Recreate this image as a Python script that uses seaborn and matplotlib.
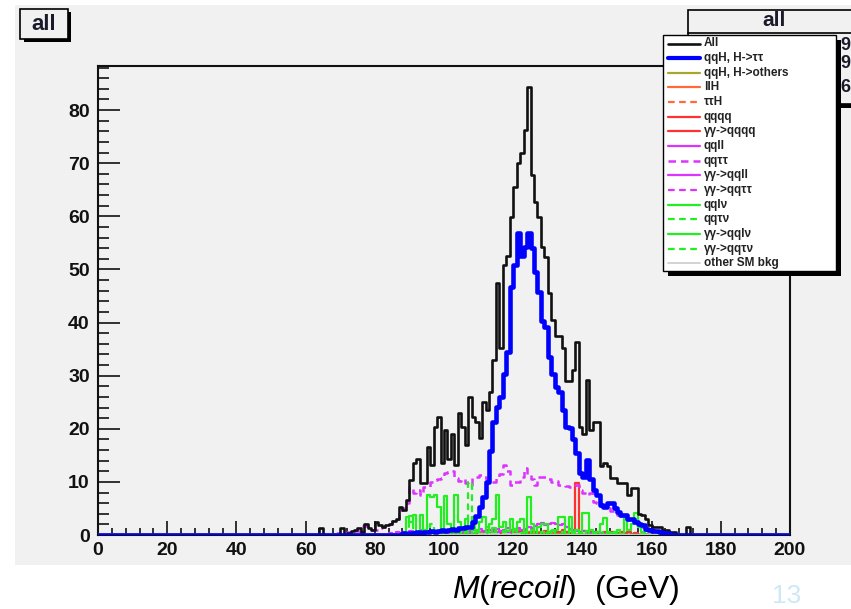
import numpy as np
import matplotlib
matplotlib.use("Agg")
import matplotlib.pyplot as plt
from matplotlib.patches import Rectangle
from matplotlib.lines import Line2D
from matplotlib.ticker import MultipleLocator
import seaborn as sns

# ---------------------------------------------------------------------------
# data: entries per 1 GeV bin of M(recoil)
# each list starts at the bin given by its *_start value
# ---------------------------------------------------------------------------
n_bins = 200
x_range = (0, 200)

all_start = 60
all_counts = [
    0, 0, 0, 0, 1.4, 0, 0, 0, 0, 0,
    1.4, 0, 0.4, 0.8, 1.0, 1.4, 0.6, 2.0, 1.4, 1.0,
    2.4, 1.9, 1.5, 1.8, 2.0, 2.7, 3.0, 5.3, 4.8, 6.5,
    10.4, 13.5, 14.4, 9.7, 9.7, 16.6, 13.2, 20.4, 22.2, 13.6,
    19.7, 14.4, 19.1, 13.2, 22.9, 20.4, 16.9, 26.0, 22.2, 21.3,
    18.3, 25.0, 23.5, 27.0, 33.0, 47.4, 35.2, 50.8, 52.6, 59.9,
    65.5, 70.0, 71.9, 76.3, 84.3, 67.7, 62.7, 59.8, 54.2, 52.3,
    45.5, 40.5, 37.4, 37.4, 35.2, 28.9, 28.9, 31.1, 36.4, 20.4,
    19.0, 29.2, 19.8, 21.3, 21.3, 12.9, 13.5, 12.9, 10.7, 10.7,
    9.8, 9.7, 9.7, 7.5, 8.8, 8.8, 4.0, 3.7, 3.0, 1.9,
    1.6, 1.6, 1.6, 1.0, 1.0, 0.6, 0.5, 0, 0, 0, 1.6,
]

qqh_tautau_start = 88
qqh_tautau = [
    0.3, 0.2, 0.4, 0.3, 0.5, 0.4, 0.6, 0.5, 0.8, 0.6,
    0.7, 0.9, 0.8, 1.0, 1.2, 1.0, 1.4, 1.3, 1.5, 1.6,
    2.4, 3.5, 5.3, 7.2, 10.0, 15.9, 21.3, 24.1, 26.0, 30.4,
    34.5, 46.7, 50.9, 56.9, 52.5, 54.3, 56.9, 54.0, 49.6, 45.8,
    40.2, 39.2, 33.6, 30.4, 27.9, 27.0, 23.6, 20.4, 20.1, 18.0,
    15.4, 11.6, 11.0, 14.1, 10.5, 8.5, 7.5, 5.6, 5.3, 6.0,
    6.0, 5.0, 4.4, 3.8, 3.8, 3.0, 3.0, 2.4, 2.0, 1.8,
    1.2, 1.0, 0.7, 0.7, 0.6, 0.4, 0.3, 0.2,
]

qqh_others_start = 110
qqh_others = [
    0.2, 0.3, 0.2, 0.4, 0.5, 0.3, 0.6, 0.5, 0.7, 0.6,
    0.8, 0.9, 0.7, 0.8, 0.6, 0.7, 0.5, 0.6, 0.4, 0.5,
    0.3, 0.4, 0.3, 0.2, 0.3, 0.2,
]

llh_start = 100
llh = [
    0.2, 0, 0.3, 0.2, 0.4, 0, 0.3, 0.5, 0.2, 0.4,
    0.6, 0.3, 0.5, 0.4, 0.7, 0.5, 0.6, 0.4, 0.8, 0.5,
    0.6, 0.4, 0.5, 0.7, 0.3, 0.5, 0.4, 0.3, 0.5, 0.2,
    0.4, 0.3, 0.2, 0.3, 0.1, 0.2, 0.1,
]

tautauh_start = 105
tautauh = [
    0.1, 0.2, 0.1, 0.2, 0.3, 0.2, 0.2, 0.3, 0.2, 0.3,
    0.4, 0.3, 0.2, 0.3, 0.2, 0.3, 0.2, 0.1, 0.2, 0.1,
]

qqqq_start = 96
qqqq = [
    0.3, 0, 0.5, 0.2, 0.6, 0.4, 0, 0.7, 0.3, 0.5,
    0.8, 0.4, 0.2, 0.6, 0, 0.5, 0.9, 0.3, 0.6, 0.4,
    0.7, 0.5, 0.3, 0.8, 0.4, 0.6, 0.5, 0.9, 0.4, 0.7,
    0.6, 0.3, 0.5, 0.8, 0.4, 0.7, 0.5, 0.6, 0.9, 0.5,
    0.4, 0.6, 9.7, 0.5, 0.7, 0.4, 0.6, 0.3, 0.5, 0.4,
    0.6, 0.3, 0.5, 0.2, 0.4, 0.6, 0.3, 0.5, 0.2, 0.3,
]

aa_qqqq_start = 100
aa_qqqq = [
    0.1, 0, 0.2, 0, 0.1, 0.3, 0, 0.2, 0.1, 0,
    0.2, 0.3, 0.1, 0, 0.2, 0.1, 0.3, 0, 0.2, 0.1,
    0, 0.2, 0.1, 0.2, 0, 0.1, 0.2, 0, 0.1, 0.1,
]

qqll_start = 84
qqll = [
    0.3, 0.2, 0.5, 0.3, 0.6, 0.4, 0.8, 0.5, 0.6, 0.9,
    0.5, 0.7, 0.4, 0.8, 0.6, 0.5, 0.9, 0.7, 0.6, 1.0,
    0.8, 0.6, 1.0, 0.7, 0.9, 0.6, 1.1, 0.8, 0.7, 1.0,
    0.9, 1.2, 0.8, 1.0, 1.3, 0.9, 1.1, 1.4, 1.0, 1.2,
    1.5, 1.3, 1.7, 2.0, 2.2, 1.9, 2.1, 2.3, 2.0, 1.8,
    2.1, 1.6, 1.2, 0.9, 0.7, 0.5, 0.8, 0.6, 0.4, 0.5,
    0.3, 0.4, 0.2, 0.3, 0.2, 0.1, 0.1,
]

qqtautau_start = 68
qqtautau = [
    0.2, 0.3, 0.2, 0.3, 0.5, 0.5, 0.8, 0.8, 1.7, 1.7,
    0.9, 0.9, 0.9, 1.4, 1.5, 2.0, 2.0, 2.6, 3.0, 3.9,
    5.1, 6.1, 9.1, 8.0, 8.5, 7.5, 9.0, 9.1, 10.0, 10.4,
    10.5, 10.8, 11.6, 11.9, 12.0, 10.8, 10.2, 10.5, 9.7, 9.4,
    10.8, 11.0, 11.3, 11.0, 10.5, 10.0, 10.0, 11.0, 11.5, 13.2,
    12.0, 9.4, 10.0, 10.0, 11.0, 12.6, 11.5, 10.5, 9.4, 11.0,
    11.0, 11.0, 10.5, 10.0, 10.2, 9.5, 9.5, 9.3, 9.1, 9.1,
    9.5, 8.5, 8.0, 7.5, 8.0, 6.2, 6.0, 5.5, 5.3, 5.0,
    4.6, 4.5, 3.8, 3.5, 3.5, 2.8, 2.7, 2.6, 1.8, 1.5,
    1.5, 1.0, 1.0, 0.8, 0.5, 0.5, 0.4,
]

aa_qqll_start = 95
aa_qqll = [
    0.2, 0, 0.3, 0.1, 0, 0.2, 0.4, 0, 0.2, 0.3,
    0, 0.1, 0.3, 0.2, 0, 0.2, 0.1, 0.3, 0, 0.2,
    0.1, 0, 0.2, 0.3, 0.1, 0, 0.2, 0.1, 0.2, 0,
]

aa_qqtautau_start = 95
aa_qqtautau = [
    0.3, 0.2, 0.4, 0.3, 0.5, 0.4, 0.3, 0.5, 0.4, 0.6,
    0.4, 0.5, 0.3, 0.4, 0.5, 0.3, 0.4, 0.3, 0.5, 0.4,
    0.3, 0.4, 0.2, 0.3, 0.4, 0.2, 0.3, 0.2, 0.2, 0.1,
]

qqlnu_start = 89
qqlnu = [
    3.4, 2.5, 3.8, 0, 3.8, 1.0, 7.5, 7.2, 7.5, 5.3,
    0, 7.3, 2.0, 0.8, 7.5, 2.5, 0, 3.0, 1.5, 3.4,
    0.8, 2.5, 3.4, 0, 2.0, 3.0, 7.5, 1.5, 2.5, 0.8,
    3.0, 0, 2.5, 3.0, 0.5, 7.2, 2.0, 0, 1.5, 2.0,
    2.0, 0.5, 0, 1.0, 3.4, 3.4, 0, 3.4, 0.5, 1.0,
    0, 4.1, 4.1, 1.0, 0, 0.5, 2.0, 3.2, 0, 0.3,
    0.5, 1.0, 0, 3.2, 1.0, 2.0, 4.1, 1.5, 0.5,
]

qqtaunu_start = 88
qqtaunu = [
    0.4, 0, 3.5, 0, 0.8, 0, 0, 1.2, 2.0, 0,
    0.6, 0, 0, 1.0, 0, 0.5, 0, 0, 1.0, 10.0,
    0, 0.5, 0, 0, 1.5, 0, 0.8, 0, 0, 0.6,
    0, 0, 1.0, 0, 0.4, 0, 0, 0.8, 0, 0,
    0.5, 0, 0, 1.0, 0, 0, 0.6, 0, 0, 0.5,
    0, 0, 0.8, 0, 0, 0.4, 0, 0, 0.6, 0,
]

aa_qqlnu_start = 100
aa_qqlnu = [
    0, 0.8, 0, 0, 1.2, 0, 0.5, 0, 0, 1.0,
    0, 0, 0.6, 0, 1.4, 0, 0, 0.7, 0, 0,
    1.1, 0, 0, 0.5, 0, 0.9, 0, 0, 0.6, 0,
    0, 0.8, 0, 0, 0.5, 0, 1.0, 0, 0, 0.4,
    0, 0.7, 0, 0, 0.5, 0, 0, 0.6, 0, 0.3,
]

aa_qqtaunu_start = 100
aa_qqtaunu = [
    0.4, 0, 0, 0.6, 0, 0, 0.5, 0, 0, 0.3,
    0, 0.5, 0, 0, 0.4, 0, 0, 0.6, 0, 0,
    0.3, 0, 0, 0.5, 0, 0, 0.4, 0, 0, 0.3,
]

other_sm_start = 110
other_sm = [0.1, 0.1, 0, 0.1, 0.2, 0.1, 0, 0.1, 0.1, 0, 0.1, 0.1]

legend_labels = [
    "All", "qqH, H->\u03c4\u03c4", "qqH, H->others", "llH", "\u03c4\u03c4H",
    "qqqq", "\u03b3\u03b3->qqqq", "qqll", "qq\u03c4\u03c4", "\u03b3\u03b3->qqll",
    "\u03b3\u03b3->qq\u03c4\u03c4", "qql\u03bd", "qq\u03c4\u03bd",
    "\u03b3\u03b3->qql\u03bd", "\u03b3\u03b3->qq\u03c4\u03bd", "other SM bkg",
]
series_data = [
    (all_start, all_counts), (qqh_tautau_start, qqh_tautau),
    (qqh_others_start, qqh_others), (llh_start, llh), (tautauh_start, tautauh),
    (qqqq_start, qqqq), (aa_qqqq_start, aa_qqqq), (qqll_start, qqll),
    (qqtautau_start, qqtautau), (aa_qqll_start, aa_qqll),
    (aa_qqtautau_start, aa_qqtautau), (qqlnu_start, qqlnu),
    (qqtaunu_start, qqtaunu), (aa_qqlnu_start, aa_qqlnu),
    (aa_qqtaunu_start, aa_qqtaunu), (other_sm_start, other_sm),
]

# ---------------------------------------------------------------------------
# styles (ROOT-like)
# ---------------------------------------------------------------------------
DASH = (0, (3.0, 2.0))
styles = [
    ("#111111", "-", 1.9),     # All
    ("#0000ff", "-", 3.3),     # qqH, H->tautau
    ("#a8a630", "-", 1.6),     # qqH, H->others
    ("#ff6a3a", "-", 1.6),     # llH
    ("#ff6a3a", DASH, 1.6),    # tautauH
    ("#ff3030", "-", 1.6),     # qqqq
    ("#ff3030", "-", 1.6),     # aa->qqqq
    ("#dd33ff", "-", 1.6),     # qqll
    ("#dd33ff", DASH, 1.8),    # qqtautau
    ("#dd33ff", "-", 1.6),     # aa->qqll
    ("#dd33ff", DASH, 1.6),    # aa->qqtautau
    ("#22ee22", "-", 1.6),     # qqlnu
    ("#22ee22", DASH, 1.6),    # qqtaunu
    ("#22ee22", "-", 1.6),     # aa->qqlnu
    ("#22ee22", DASH, 1.6),    # aa->qqtaunu
    ("#cccccc", "-", 1.2),     # other SM bkg
]

GRAY = "#f1f1f1"
W, H = 851, 609

sns.set_style("ticks")
plt.rcParams["font.family"] = ["Liberation Sans", "DejaVu Sans"]
plt.rcParams["mathtext.fontset"] = "custom"
plt.rcParams["mathtext.it"] = "Liberation Sans:italic"
plt.rcParams["mathtext.rm"] = "Liberation Sans"


def full_hist(start, vals):
    h = np.zeros(n_bins)
    h[start:start + len(vals)] = vals
    return h


fig = plt.figure(figsize=(W / 100, H / 100), dpi=100)
fig.patch.set_facecolor("white")


def box(x0, y0, x1, y1, **kw):
    # rectangle given in pixel coords (origin top-left)
    return Rectangle((x0 / W, 1 - y1 / H), (x1 - x0) / W, (y1 - y0) / H,
                     transform=fig.transFigure, **kw)


# ROOT canvas background
fig.add_artist(box(15, 5, 851, 565, facecolor=GRAY, edgecolor="none", zorder=-10))

ax = fig.add_axes([98 / W, 1 - 535 / H, 692 / W, 469 / H])
ax.set_facecolor(GRAY)

centers = np.arange(n_bins) + 0.5
# backgrounds first, then All, then the signal on top
draw_order = list(range(2, len(series_data))) + [0, 1]
for z, i in enumerate(draw_order):
    start, vals = series_data[i]
    color, ls, lw = styles[i]
    sns.histplot(x=centers, weights=full_hist(start, vals), bins=n_bins,
                 binrange=x_range, element="step", fill=False, color=color,
                 linewidth=lw, linestyle=ls, ax=ax, legend=False, zorder=2 + z)

ax.set_xlim(*x_range)
ax.set_ylim(0, 88.3)
ax.set_xlabel("")
ax.set_ylabel("")
ax.xaxis.set_major_locator(MultipleLocator(20))
ax.xaxis.set_minor_locator(MultipleLocator(4))
ax.yaxis.set_major_locator(MultipleLocator(10))
ax.yaxis.set_minor_locator(MultipleLocator(2))
ax.tick_params(axis="both", which="both", direction="in", colors="#111111",
               width=1.2, top=False, right=False, labelsize=14)
ax.tick_params(axis="y", which="major", length=16, pad=6)
ax.tick_params(axis="y", which="minor", length=8)
ax.tick_params(axis="x", which="major", length=10, pad=5)
ax.tick_params(axis="x", which="minor", length=5)
for lbl in ax.get_xticklabels() + ax.get_yticklabels():
    lbl.set_fontweight("bold")
for sp in ax.spines.values():
    sp.set_color("#111111")
    sp.set_linewidth(1.5)
    sp.set_visible(True)

# title box (top left)
fig.add_artist(box(24, 12, 71, 42, facecolor="black", edgecolor="none", zorder=10))
fig.add_artist(box(20, 9, 68, 39, facecolor=GRAY, edgecolor="black", lw=1.2, zorder=11))
fig.text(44 / W, 1 - 24 / H, "all", fontsize=16, fontweight="bold", ha="center",
         va="center", color="#1a1a2a", zorder=12)

# stats box (top right, mostly hidden behind the legend)
fig.add_artist(box(692, 14, 860, 108, facecolor="black", edgecolor="none", zorder=10))
fig.add_artist(box(688, 10, 860, 104, facecolor=GRAY, edgecolor="black", lw=1.2, zorder=11))
fig.add_artist(Line2D([688 / W, 1], [1 - 33 / H, 1 - 33 / H], color="black", lw=1.2,
                      transform=fig.transFigure, zorder=12))
fig.text(774 / W, 1 - 21 / H, "all", fontsize=15, fontweight="bold", ha="center",
         va="center", color="#1a1a2a", zorder=12)
for yy, s in zip([45, 64, 87], ["9", "9", "6"]):
    fig.text(840 / W, 1 - yy / H, s, fontsize=13, fontweight="bold", ha="left",
             va="center", color="#1a1a2a", zorder=12)

# legend box
fig.add_artist(box(668, 40, 841, 276, facecolor="black", edgecolor="none", zorder=20))
fig.add_artist(box(663, 35, 836, 271, facecolor="white", edgecolor="black", lw=1.0, zorder=21))
for i, label in enumerate(legend_labels):
    color, ls, lw = styles[i]
    yy = 1 - (43.5 + i * 14.65) / H
    fig.add_artist(Line2D([668 / W, 700 / W], [yy, yy], color=color, ls=ls,
                          lw=min(lw, 3.0), transform=fig.transFigure, zorder=22))
    fig.text(704 / W, yy, label, fontsize=8.5, fontweight="bold", ha="left",
             va="center", color="#222222", zorder=22)

# axis title below the canvas
fig.text(566 / W, 1 - 590 / H, r"$\mathit{M}$($\mathit{recoil}$)  (GeV)",
         fontsize=23, ha="center", va="center", color="black")
fig.text(787 / W, 1 - 596 / H, "13", fontsize=19, ha="center", va="center",
         color="#cfe8f6")

fig.savefig("out.png", dpi=100)
